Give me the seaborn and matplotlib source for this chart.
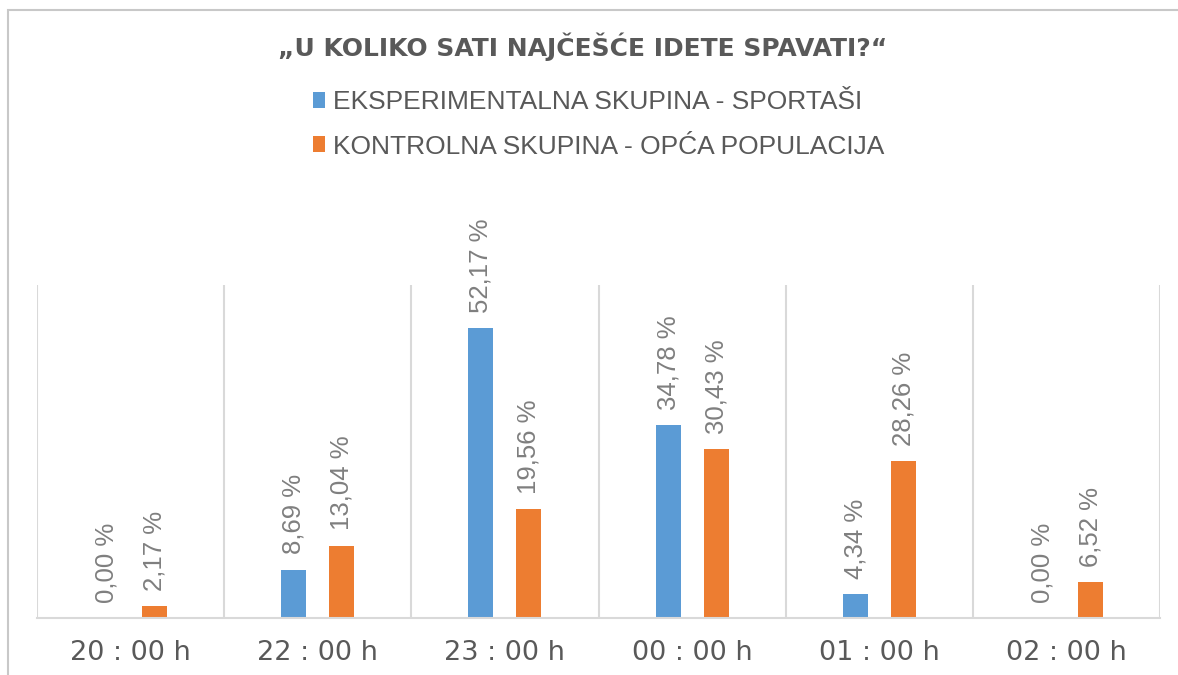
import matplotlib
matplotlib.use('Agg')
import matplotlib.pyplot as plt
from matplotlib.patches import Patch, Rectangle
import pandas as pd
import seaborn as sns

# podaci s grafa
vremena = ["20 : 00 h", "22 : 00 h", "23 : 00 h", "00 : 00 h", "01 : 00 h", "02 : 00 h"]
sportasi = [0.00, 8.69, 52.17, 34.78, 4.34, 0.00]
populacija = [2.17, 13.04, 19.56, 30.43, 28.26, 6.52]
skupine = ["EKSPERIMENTALNA SKUPINA - SPORTAŠI", "KONTROLNA SKUPINA - OPĆA POPULACIJA"]
naslov = "„U KOLIKO SATI NAJČEŠĆE IDETE SPAVATI?“"

PLAVA = '#5B9BD5'
NARANCASTA = '#ED7D31'
SIVA = '#595959'
SIVA_SVJETLA = '#7F7F7F'
LINIJA = '#D9D9D9'

df = pd.DataFrame({
    'vrijeme': vremena * 2,
    'postotak': sportasi + populacija,
    'skupina': [skupine[0]] * len(vremena) + [skupine[1]] * len(vremena),
})

sns.set_theme(style='white')
plt.rcParams['font.family'] = ['Liberation Sans', 'DejaVu Sans']

W, H = 1178, 675
fig = plt.figure(figsize=(W / 100, H / 100), dpi=100)
ax = fig.add_axes([37 / W, 57 / H, (1160 - 37) / W, (618 - 285) / H])

sns.barplot(data=df, x='vrijeme', y='postotak', hue='skupina',
            palette=[PLAVA, NARANCASTA], saturation=1, width=0.513, gap=0.478,
            ax=ax, legend=False, linewidth=0)

# oznake podataka (okomito, decimalni zarez)
for cont, vals in zip(ax.containers, [sportasi, populacija]):
    labs = [f"{v:.2f} %".replace('.', ',') for v in vals]
    ax.bar_label(cont, labels=labs, rotation=90, padding=11,
                 fontsize=18.5, color=SIVA_SVJETLA)

ax.set_xlim(-0.5, len(vremena) - 0.5)
ax.set_ylim(0, 60)
ax.set_yticks([])
ax.set_xlabel('')
ax.set_ylabel('')
ax.set_xticks(range(len(vremena)))
ax.set_xticklabels(vremena, fontsize=19.5, color=SIVA, family=['DejaVu Sans'])
ax.set_xticks([i - 0.5 for i in range(len(vremena) + 1)], minor=True)
ax.grid(False)
ax.grid(which='minor', axis='x', color=LINIJA, linewidth=1.5)
ax.tick_params(which='both', length=0)
ax.tick_params(axis='x', pad=16)
for s in ['top', 'left', 'right']:
    ax.spines[s].set_visible(False)
ax.spines['bottom'].set_color(LINIJA)
ax.spines['bottom'].set_linewidth(1.5)

fig.text(583 / W, 1 - 47 / H, naslov, ha='center', va='center',
         fontsize=18, fontweight='bold', color=SIVA, family=['DejaVu Sans'])

handles = [Patch(facecolor=PLAVA, edgecolor='none'), Patch(facecolor=NARANCASTA, edgecolor='none')]
fig.legend(handles, skupine, loc='upper left', bbox_to_anchor=(313 / W, 1 - 90 / H),
           frameon=False, fontsize=19, handlelength=0.46, handleheight=0.54,
           handletextpad=0.3, labelspacing=0.78, borderpad=0, borderaxespad=0,
           labelcolor=SIVA)

# okvir grafikona
fig.patches.append(Rectangle((8 / W, -0.1), 1.2, (H - 10) / H + 0.1,
                             transform=fig.transFigure, fill=False,
                             edgecolor='#C8C8C8', linewidth=1.5))

fig.savefig('out.png', dpi=100)
plt.close(fig)
